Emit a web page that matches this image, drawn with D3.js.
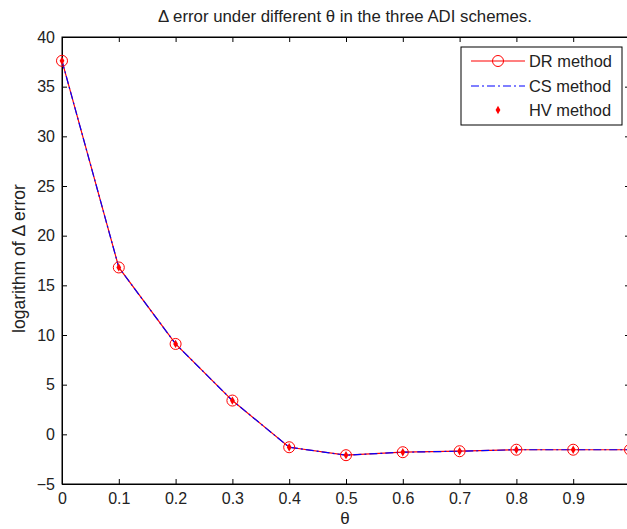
<!DOCTYPE html>
<html><head><meta charset="utf-8">
<script src="https://cdn.jsdelivr.net/npm/d3@7"></script>
<style>body{margin:0;background:#fff;} svg{display:block;font-family:"Liberation Sans",Arial,sans-serif;}</style>
</head><body><svg id="c" width="627" height="529"></svg>
<script>
const theta = [0, 0.1, 0.2, 0.3, 0.4, 0.5, 0.6, 0.7, 0.8, 0.9, 1.0];
const drValues = [37.6, 16.8, 9.1, 3.4, -1.3, -2.1, -1.8, -1.7, -1.55, -1.55, -1.55];
const csValues = [37.6, 16.8, 9.1, 3.4, -1.3, -2.1, -1.8, -1.7, -1.55, -1.55, -1.55];
const hvValues = [37.6, 16.8, 9.1, 3.4, -1.3, -2.1, -1.8, -1.7, -1.55, -1.55, -1.55];
const xTicks = [0, 0.1, 0.2, 0.3, 0.4, 0.5, 0.6, 0.7, 0.8, 0.9, 1.0];
const xTickLabels = ["0", "0.1", "0.2", "0.3", "0.4", "0.5", "0.6", "0.7", "0.8", "0.9", ""];
const yTicks = [-5, 0, 5, 10, 15, 20, 25, 30, 35, 40];
const legendLabels = ["DR method", "CS method", "HV method"];
const titleText = "\u0394 error under different \u03b8 in the three ADI schemes.";
const xLabelText = "\u03b8";
const yLabelText = "logarithm of \u0394 error";

const svg = d3.select("#c");
const L = 62, R = 630, T = 37, B = 484;
const x = d3.scaleLinear().domain([0, 1]).range([L, R]);
const y = d3.scaleLinear().domain([-5, 40]).range([B, T]);

const fs = 16;
const font = '"Liberation Sans",Arial,sans-serif';
svg.append("rect").attr("x", L).attr("y", T).attr("width", R - L).attr("height", B - T)
  .attr("fill", "#fff").attr("stroke", "#000").attr("stroke-width", 1);

const gx = svg.append("g").attr("transform", `translate(0,${B})`)
  .call(d3.axisBottom(x).tickValues(xTicks).tickFormat((d, i) => xTickLabels[i]).tickSizeInner(-5).tickSizeOuter(0).tickPadding(9));
const gxt = svg.append("g").attr("transform", `translate(0,${T})`)
  .call(d3.axisTop(x).tickValues(xTicks).tickFormat("").tickSizeInner(-5).tickSizeOuter(0));
const gy = svg.append("g").attr("transform", `translate(${L},0)`)
  .call(d3.axisLeft(y).tickValues(yTicks).tickSizeInner(-5).tickSizeOuter(0).tickPadding(7));
const gyr = svg.append("g").attr("transform", `translate(${R},0)`)
  .call(d3.axisRight(y).tickValues(yTicks).tickFormat("").tickSizeInner(-5).tickSizeOuter(0));
[gx, gxt, gy, gyr].forEach(g => {
  g.select(".domain").attr("stroke", "#000");
  g.selectAll(".tick line").attr("stroke", "#000");
  g.selectAll("text").attr("fill", "#222").style("font-size", fs + "px").style("font-family", font);
});

const line = d3.line().x((d, i) => x(theta[i])).y(d => y(d));
svg.append("path").datum(drValues).attr("d", line).attr("fill", "none").attr("stroke", "#ff0000").attr("stroke-width", 1.2);
svg.append("path").datum(csValues).attr("d", line).attr("fill", "none").attr("stroke", "#0000ff").attr("stroke-width", 1.2)
  .attr("stroke-dasharray", "8,3,2,3");
svg.append("g").selectAll("circle").data(drValues).join("circle")
  .attr("cx", (d, i) => x(theta[i])).attr("cy", d => y(d)).attr("r", 5.5)
  .attr("fill", "none").attr("stroke", "#ff0000").attr("stroke-width", 1);
svg.append("g").selectAll("path").data(hvValues).join("path")
  .attr("transform", (d, i) => `translate(${x(theta[i])},${y(d)})`)
  .attr("d", d3.symbol(d3.symbolDiamond, 20)).attr("fill", "#ff0000");

svg.append("text").attr("x", 345).attr("y", 22).attr("text-anchor", "middle")
  .style("font-size", "16.8px").attr("fill", "#222").text(titleText);
svg.append("text").attr("x", 345).attr("y", 524).attr("text-anchor", "middle")
  .style("font-size", "17px").attr("fill", "#222").text(xLabelText);
svg.append("text").attr("transform", `translate(25,${(T + B) / 2 - 2}) rotate(-90)`).attr("text-anchor", "middle")
  .style("font-size", "17.5px").attr("fill", "#222").text(yLabelText);

const lg = svg.append("g");
lg.append("rect").attr("x", 461).attr("y", 47).attr("width", 161).attr("height", 78)
  .attr("fill", "#fff").attr("stroke", "#000");
const rows = [61, 86, 110];
rows.forEach((ry, i) => {
  if (i === 0) {
    lg.append("line").attr("x1", 471).attr("x2", 525).attr("y1", ry).attr("y2", ry).attr("stroke", "#ff0000").attr("stroke-width", 1.2);
    lg.append("circle").attr("cx", 498).attr("cy", ry).attr("r", 5.5).attr("fill", "none").attr("stroke", "#ff0000");
  } else if (i === 1) {
    lg.append("line").attr("x1", 471).attr("x2", 525).attr("y1", ry).attr("y2", ry).attr("stroke", "#0000ff").attr("stroke-width", 1.2).attr("stroke-dasharray", "8,3,2,3");
  } else {
    lg.append("path").attr("transform", `translate(498,${ry})`).attr("d", d3.symbol(d3.symbolDiamond, 20)).attr("fill", "#ff0000");
  }
  lg.append("text").attr("x", 529).attr("y", ry + 6).style("font-size", "16.4px").attr("fill", "#222").text(legendLabels[i]);
});
</script></body></html>
